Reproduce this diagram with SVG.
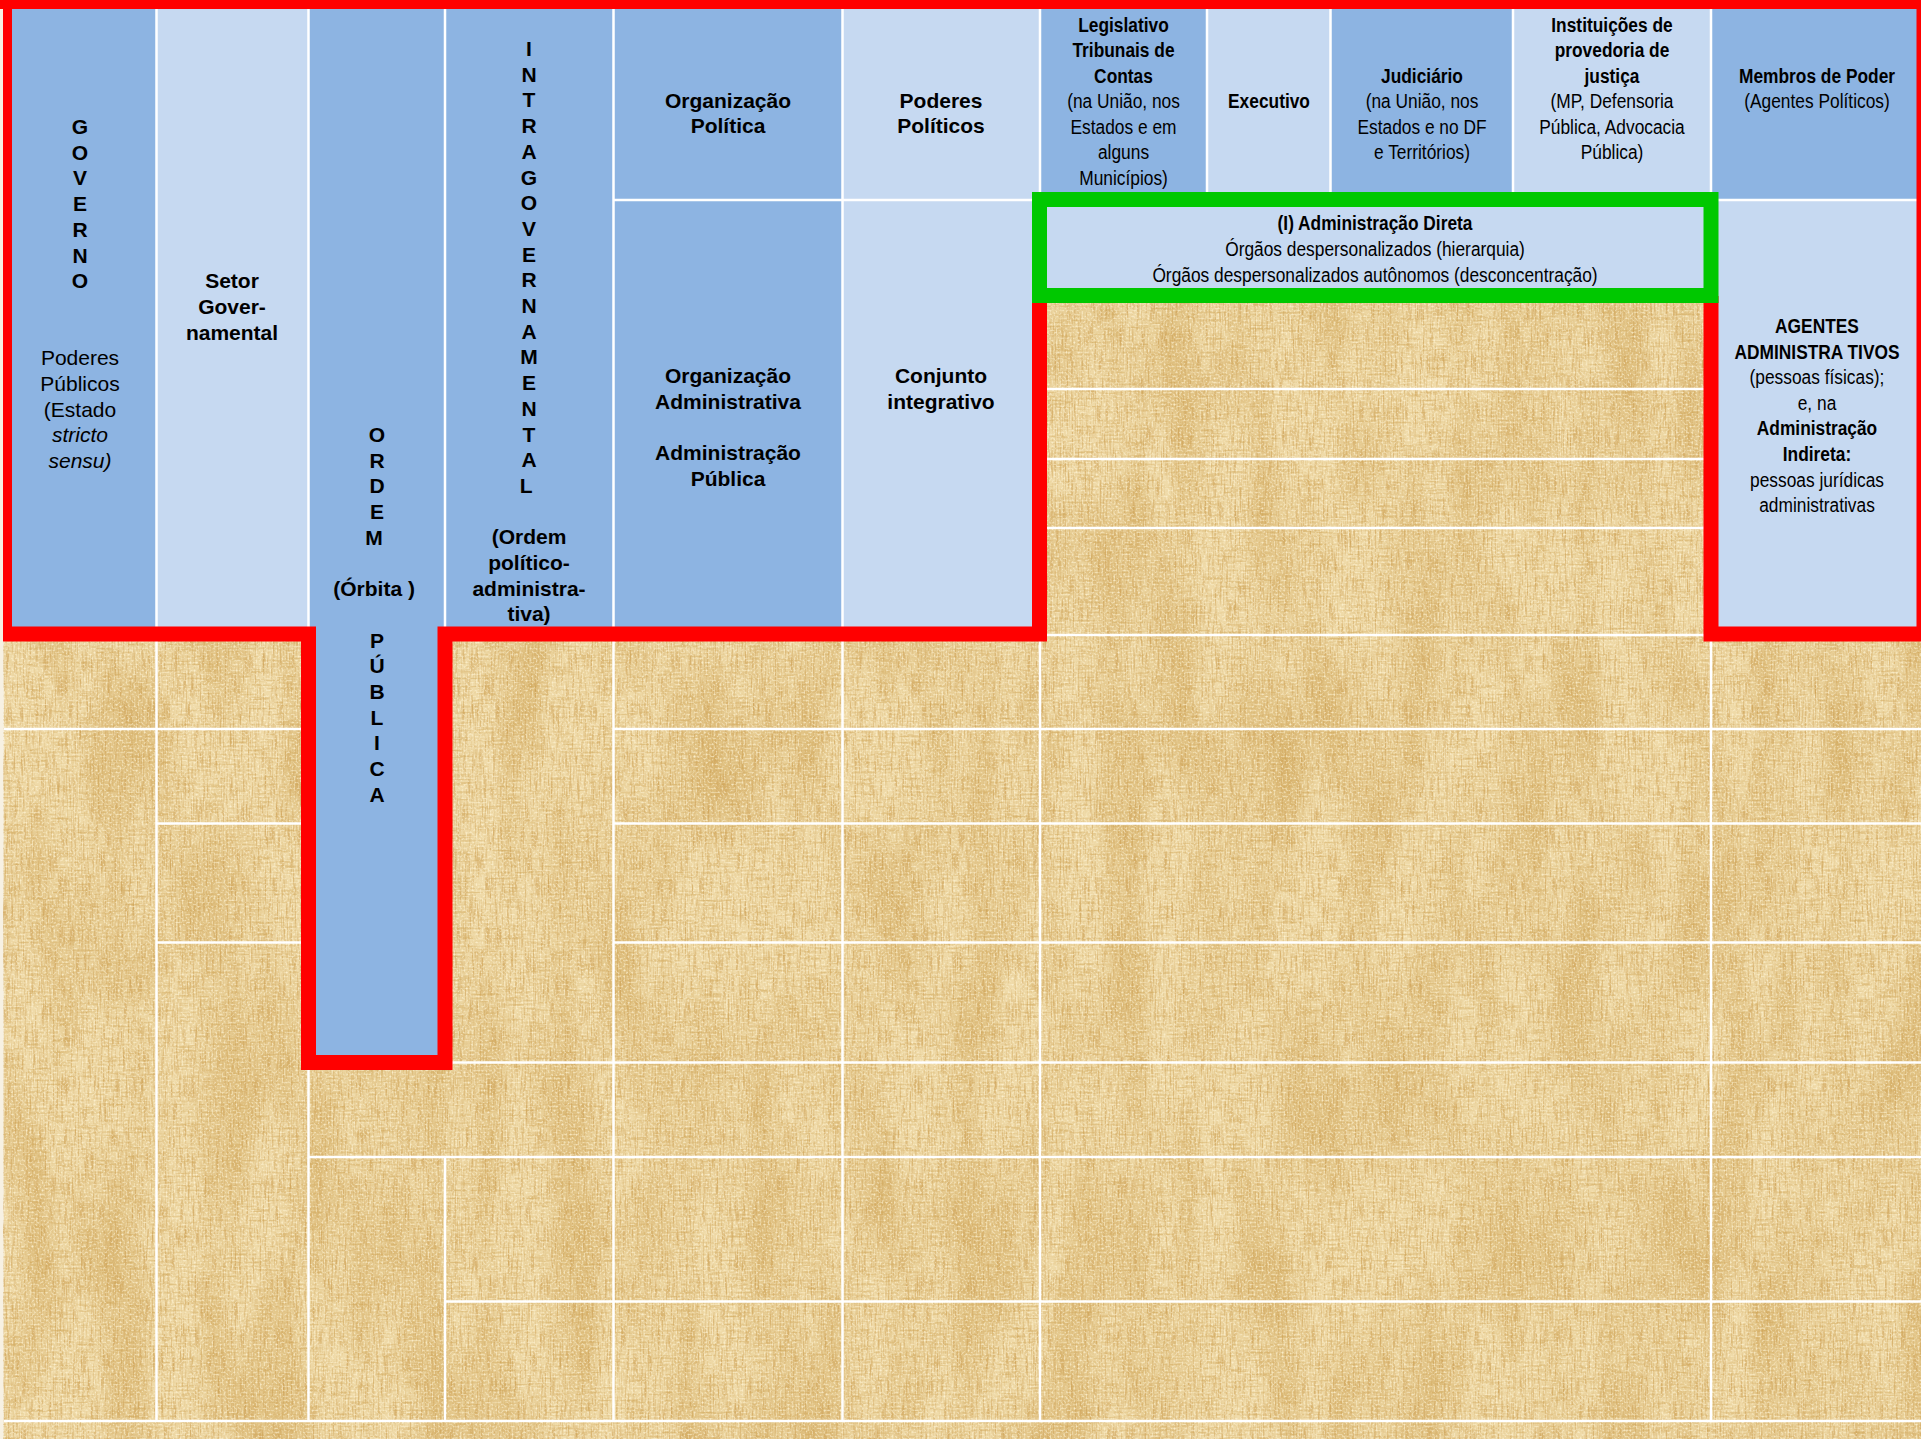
<svg xmlns="http://www.w3.org/2000/svg" width="1921" height="1439" viewBox="0 0 1921 1439">
<defs>
<style>
.t{font-family:"Liberation Sans",Arial,"DejaVu Sans",sans-serif;font-size:21px;fill:#000;text-anchor:middle}
.b{font-weight:bold}
.i{font-style:italic}
.dk{fill:#8DB4E2}
.lt{fill:#C6D9F1}
.wl{stroke:#fff;stroke-width:2.5;fill:none}
.red{stroke:#FF0000;stroke-width:15;fill:none;stroke-linejoin:miter}
.grn{stroke:#00C800;stroke-width:15;fill:#C6D9F1}
</style>
<filter id="papyrus" filterUnits="userSpaceOnUse" x="0" y="0" width="1921" height="1439" color-interpolation-filters="sRGB">
<feTurbulence type="fractalNoise" baseFrequency="0.02 0.006" numOctaves="2" seed="4" result="coarse"/>
<feColorMatrix in="coarse" type="matrix" values="0 0 0 0 0.82  0 0 0 0 0.66  0 0 0 0 0.36  1.3 0 0 0 -0.5" result="dark"/>
<feTurbulence type="fractalNoise" baseFrequency="0.6 0.04" numOctaves="2" seed="11" result="fine"/>
<feColorMatrix in="fine" type="matrix" values="0 0 0 0 0.80  0 0 0 0 0.62  0 0 0 0 0.32  1.8 0 0 0 -0.8" result="fibers"/>
<feTurbulence type="fractalNoise" baseFrequency="0.04 0.5" numOctaves="2" seed="17" result="hfine"/>
<feColorMatrix in="hfine" type="matrix" values="0 0 0 0 0.82  0 0 0 0 0.66  0 0 0 0 0.36  1.6 0 0 0 -0.75" result="hfibers"/>
<feTurbulence type="fractalNoise" baseFrequency="0.5 0.5" numOctaves="1" seed="23" result="fine2"/>
<feColorMatrix in="fine2" type="matrix" values="0 0 0 0 1  0 0 0 0 0.96  0 0 0 0 0.84  2.2 0 0 0 -1.05" result="light"/>
<feMerge><feMergeNode in="SourceGraphic"/><feMergeNode in="dark"/><feMergeNode in="fibers"/><feMergeNode in="hfibers"/><feMergeNode in="light"/></feMerge>
</filter>
</defs>

<rect width="1921" height="1439" fill="#F7F1E3"/>
<rect id="parchment" x="4" y="0" width="1917" height="1439" fill="#EFDAA8" filter="url(#papyrus)"/>

<g id="governo">
<rect class="dk" x="8" y="5" width="148.5" height="629"/>
<text class="t b">
<tspan x="80" y="134">G</tspan><tspan x="80" y="159.7">O</tspan><tspan x="80" y="185.4">V</tspan><tspan x="80" y="211.1">E</tspan><tspan x="80" y="236.8">R</tspan><tspan x="80" y="262.5">N</tspan><tspan x="80" y="288.2">O</tspan>
</text>
<text class="t">
<tspan x="80" y="365.3">Poderes</tspan><tspan x="80" y="391">Públicos</tspan><tspan x="80" y="416.7">(Estado</tspan><tspan class="i" x="80" y="442.4">stricto</tspan><tspan class="i" x="80" y="468.1">sensu)</tspan>
</text>
</g>

<g id="setor-governamental">
<rect class="lt" x="156.5" y="5" width="152" height="629"/>
<text class="t b"><tspan x="232" y="288.2">Setor</tspan><tspan x="232" y="313.9">Gover-</tspan><tspan x="232" y="339.6">namental</tspan></text>
</g>

<g id="ordem-publica">
<rect class="dk" x="308.5" y="5" width="136.5" height="1057.5"/>
<text class="t b">
<tspan x="377" y="442">O</tspan><tspan x="377" y="467.7">R</tspan><tspan x="377" y="493.4">D</tspan><tspan x="377" y="519.1">E</tspan><tspan x="377" y="544.8">M</tspan>
<tspan x="377" y="596.2">(Órbita )</tspan>
<tspan x="377" y="647.6">P</tspan><tspan x="377" y="673.3">Ú</tspan><tspan x="377" y="699">B</tspan><tspan x="377" y="724.7">L</tspan><tspan x="377" y="750.4">I</tspan><tspan x="377" y="776.1">C</tspan><tspan x="377" y="801.8">A</tspan>
</text>
</g>

<g id="intragovernamental">
<rect class="dk" x="445" y="5" width="168.5" height="629"/>
<text class="t b">
<tspan x="529" y="56">I</tspan><tspan x="529" y="81.7">N</tspan><tspan x="529" y="107.4">T</tspan><tspan x="529" y="133.1">R</tspan><tspan x="529" y="158.8">A</tspan><tspan x="529" y="184.5">G</tspan><tspan x="529" y="210.2">O</tspan><tspan x="529" y="235.9">V</tspan><tspan x="529" y="261.6">E</tspan><tspan x="529" y="287.3">R</tspan><tspan x="529" y="313">N</tspan><tspan x="529" y="338.7">A</tspan><tspan x="529" y="364.4">M</tspan><tspan x="529" y="390.1">E</tspan><tspan x="529" y="415.8">N</tspan><tspan x="529" y="441.5">T</tspan><tspan x="529" y="467.2">A</tspan><tspan x="529" y="492.9">L</tspan>
<tspan x="529" y="544.3">(Ordem</tspan><tspan x="529" y="570">político-</tspan><tspan x="529" y="595.7">administra-</tspan><tspan x="529" y="621.4">tiva)</tspan>
</text>
</g>

<g id="organizacao-politica">
<rect class="dk" x="613.5" y="5" width="229" height="195"/>
<text class="t b"><tspan x="728" y="107.5">Organização</tspan><tspan x="728" y="133.2">Política</tspan></text>
</g>

<g id="poderes-politicos">
<rect class="lt" x="842.5" y="5" width="197.5" height="195"/>
<text class="t b"><tspan x="941" y="107.5">Poderes</tspan><tspan x="941" y="133.2">Políticos</tspan></text>
</g>

<g id="organizacao-administrativa">
<rect class="dk" x="613.5" y="200" width="229" height="434"/>
<text class="t b"><tspan x="728" y="383">Organização</tspan><tspan x="728" y="408.7">Administrativa</tspan><tspan x="728" y="460.1">Administração</tspan><tspan x="728" y="485.8">Pública</tspan></text>
</g>

<g id="conjunto-integrativo">
<rect class="lt" x="842.5" y="200" width="197.5" height="434"/>
<text class="t b"><tspan x="941" y="383">Conjunto</tspan><tspan x="941" y="408.7">integrativo</tspan></text>
</g>

<g id="legislativo">
<rect class="dk" x="1040" y="5" width="167" height="195"/>
<g transform="translate(1123.5,0) scale(0.826,1)">
<text class="t"><tspan class="b" x="0" y="32">Legislativo</tspan><tspan class="b" x="0" y="57.5">Tribunais de</tspan><tspan class="b" x="0" y="83">Contas</tspan><tspan x="0" y="108.5">(na União, nos</tspan><tspan x="0" y="134">Estados e em</tspan><tspan x="0" y="159.5">alguns</tspan><tspan x="0" y="185">Municípios)</tspan></text>
</g>
</g>

<g id="executivo">
<rect class="lt" x="1207" y="5" width="123.5" height="195"/>
<g transform="translate(1269,0) scale(0.826,1)">
<text class="t b"><tspan x="0" y="108.5">Executivo</tspan></text>
</g>
</g>

<g id="judiciario">
<rect class="dk" x="1330.5" y="5" width="182.5" height="195"/>
<g transform="translate(1422,0) scale(0.826,1)">
<text class="t"><tspan class="b" x="0" y="83">Judiciário</tspan><tspan x="0" y="108.5">(na União, nos</tspan><tspan x="0" y="134">Estados e no DF</tspan><tspan x="0" y="159.5">e Territórios)</tspan></text>
</g>
</g>

<g id="instituicoes-provedoria">
<rect class="lt" x="1513" y="5" width="198" height="195"/>
<g transform="translate(1612,0) scale(0.826,1)">
<text class="t"><tspan class="b" x="0" y="32">Instituições de</tspan><tspan class="b" x="0" y="57.5">provedoria de</tspan><tspan class="b" x="0" y="83">justiça</tspan><tspan x="0" y="108.5">(MP, Defensoria</tspan><tspan x="0" y="134">Pública, Advocacia</tspan><tspan x="0" y="159.5">Pública)</tspan></text>
</g>
</g>

<g id="membros-de-poder">
<rect class="dk" x="1711" y="5" width="210" height="195"/>
<g transform="translate(1817,0) scale(0.826,1)">
<text class="t"><tspan class="b" x="0" y="83">Membros de Poder</tspan><tspan x="0" y="108.5">(Agentes Políticos)</tspan></text>
</g>
</g>

<g id="agentes-administrativos">
<rect class="lt" x="1711" y="200" width="210" height="434"/>
<g transform="translate(1817,0) scale(0.826,1)">
<text class="t"><tspan class="b" x="0" y="333">AGENTES</tspan><tspan class="b" x="0" y="358.6">ADMINISTRA TIVOS</tspan><tspan x="0" y="384.2">(pessoas físicas);</tspan><tspan x="0" y="409.8">e, na</tspan><tspan class="b" x="0" y="435.4">Administração</tspan><tspan class="b" x="0" y="461">Indireta:</tspan><tspan x="0" y="486.6">pessoas jurídicas</tspan><tspan x="0" y="512.2">administrativas</tspan></text>
</g>
</g>

<g id="grid-lines">
<path class="wl" d="M156.5 5V1421 M308.5 5V1421 M445 5V634 M445 1157V1421 M613.5 5V1421 M842.5 5V1421 M1040 5V200 M1040 296V1421 M1207 5V200 M1330.5 5V200 M1513 5V200 M1711 5V200 M1711 296V1421"/>
<path class="wl" d="M613.5 200H1040 M1711 200H1921"/>
<path class="wl" d="M1040 389H1711 M1040 459H1711 M1040 528H1711 M1040 635H1711"/>
<path class="wl" d="M4 729H308.5 M613.5 729H1921 M156.5 823.5H308.5 M613.5 823.5H1921 M156.5 942.5H308.5 M613.5 942.5H1921 M445 1062.5H1921 M308.5 1157H1921 M445 1301.5H1921 M4 1421H1921"/>
</g>

<g id="outlines">
<path id="poder-publico-outline" class="red" d="M1711 296V634H1924V1.5H4.5V634H308.5V1062.5H445V634H1039.5V296"/>
<rect x="0" y="9" width="3" height="1430" fill="#F7F1E3"/>
</g>

<g id="administracao-direta">
<rect class="grn" x="1039.5" y="199.5" width="671.5" height="96"/>
<g transform="translate(1375,0) scale(0.826,1)">
<text class="t"><tspan class="b" x="0" y="230.5">(I) Administração Direta</tspan><tspan x="0" y="256">Órgãos despersonalizados (hierarquia)</tspan><tspan x="0" y="281.7">Órgãos despersonalizados autônomos (desconcentração)</tspan></text>
</g>
</g>
</svg>
